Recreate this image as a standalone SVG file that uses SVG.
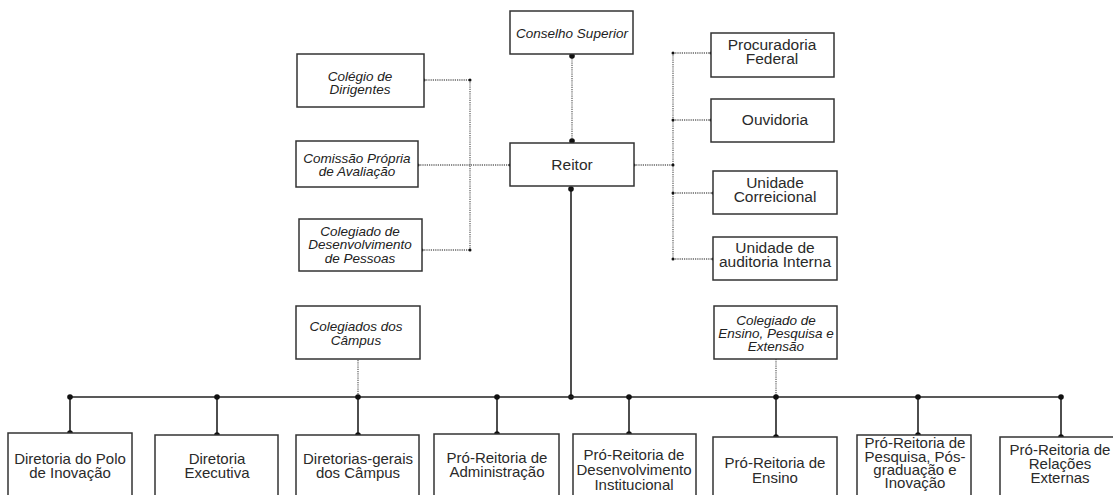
<svg xmlns="http://www.w3.org/2000/svg" width="1113" height="495" viewBox="0 0 1113 495">
<style>
.box{fill:#fff;stroke:#333;stroke-width:1.5}
.t{font-family:"Liberation Sans",Arial,sans-serif;font-size:15px;fill:#2a2a2a;text-anchor:middle}
.tr{font-family:"Liberation Sans",Arial,sans-serif;font-size:15.5px;fill:#2a2a2a;text-anchor:middle}
.ti{font-family:"Liberation Sans",Arial,sans-serif;font-size:13.5px;font-style:italic;fill:#222;text-anchor:middle}
.dot{fill:none;stroke:#666;stroke-width:1.3;stroke-dasharray:1.2 1}
.sol{fill:none;stroke:#222;stroke-width:1.6}
.jd{fill:#111}
</style>
<rect width="1113" height="495" fill="#fff"/>
<g id="connectors">
  <!-- Conselho - Reitor -->
  <path class="dot" d="M572 56V141"/>
  <circle class="jd" cx="572" cy="56" r="2.8"/>
  <circle class="jd" cx="572" cy="141" r="2.8"/>
  <!-- left side -->
  <path class="dot" d="M424 80H470M418 165H510M422 250H470M470 80V250"/>
  <circle class="jd" cx="424" cy="80" r="1.5"/>
  <circle class="jd" cx="470" cy="80" r="1.5"/>
  <circle class="jd" cx="418" cy="165" r="1.5"/>
  <circle class="jd" cx="510" cy="165" r="1.5"/>
  <circle class="jd" cx="422" cy="250" r="1.5"/>
  <circle class="jd" cx="470" cy="250" r="1.5"/>
  <!-- right side -->
  <path class="dot" d="M634 165H673M673 53V259M673 53H711M673 120H711M673 193H713M673 259H713"/>
  <circle class="jd" cx="634" cy="165" r="1.5"/>
  <circle class="jd" cx="673" cy="165" r="1.5"/>
  <circle class="jd" cx="673" cy="53" r="1.5"/>
  <circle class="jd" cx="711" cy="53" r="1.5"/>
  <circle class="jd" cx="673" cy="120" r="1.5"/>
  <circle class="jd" cx="711" cy="120" r="1.5"/>
  <circle class="jd" cx="673" cy="193" r="1.5"/>
  <circle class="jd" cx="713" cy="193" r="1.5"/>
  <circle class="jd" cx="673" cy="259" r="1.5"/>
  <circle class="jd" cx="713" cy="259" r="1.5"/>
  <!-- Reitor to bus -->
  <path class="sol" d="M571 189V397"/>
  <circle class="jd" cx="571" cy="189" r="2.8"/>
  <circle class="jd" cx="571" cy="397" r="2.8"/>
  <!-- colegiados dotted -->
  <path class="dot" d="M358 360V397M776 359V397"/>
  <!-- bus -->
  <path class="sol" d="M70 397H1061"/>
  <path class="sol" d="M70 397V433M217 397V435M358 397V435M497 397V434M629 397V434M776 397V437M918 397V435M1061 397V437"/>
  <g class="jd">
    <circle cx="70" cy="397" r="2.8"/><circle cx="70" cy="433" r="2.8"/>
    <circle cx="217" cy="397" r="2.8"/><circle cx="217" cy="435" r="2.8"/>
    <circle cx="358" cy="397" r="2.8"/><circle cx="358" cy="435" r="2.8"/>
    <circle cx="497" cy="397" r="2.8"/><circle cx="497" cy="434" r="2.8"/>
    <circle cx="629" cy="397" r="2.8"/><circle cx="629" cy="434" r="2.8"/>
    <circle cx="776" cy="397" r="2.8"/><circle cx="776" cy="437" r="2.8"/>
    <circle cx="918" cy="397" r="2.8"/><circle cx="918" cy="435" r="2.8"/>
    <circle cx="1061" cy="397" r="2.8"/><circle cx="1061" cy="437" r="2.8"/>
  </g>
</g>
<g id="conselho-superior">
  <rect class="box" x="510" y="11" width="123" height="43"/>
  <text class="ti" x="572" y="38">Conselho Superior</text>
</g>
<g id="reitor">
  <rect class="box" x="510" y="143" width="124" height="43"/>
  <text class="tr" x="572" y="170">Reitor</text>
</g>
<g id="colegio-dirigentes">
  <rect class="box" x="297" y="54" width="127" height="53"/>
  <text class="ti" x="360" y="81">Colégio de</text>
  <text class="ti" x="360" y="94">Dirigentes</text>
</g>
<g id="comissao-propria">
  <rect class="box" x="296" y="141" width="122" height="46"/>
  <text class="ti" x="357" y="163">Comissão Própria</text>
  <text class="ti" x="357" y="176">de Avaliação</text>
</g>
<g id="colegiado-desenvolvimento">
  <rect class="box" x="299" y="219" width="123" height="52"/>
  <text class="ti" x="360" y="236">Colegiado de</text>
  <text class="ti" x="360" y="249">Desenvolvimento</text>
  <text class="ti" x="360" y="263">de Pessoas</text>
</g>
<g id="procuradoria">
  <rect class="box" x="711" y="33" width="123" height="44"/>
  <text class="tr" x="772" y="50">Procuradoria</text>
  <text class="tr" x="772" y="64">Federal</text>
</g>
<g id="ouvidoria">
  <rect class="box" x="711" y="99" width="123" height="43"/>
  <text class="tr" x="775" y="125">Ouvidoria</text>
</g>
<g id="unidade-correicional">
  <rect class="box" x="713" y="171" width="124" height="43"/>
  <text class="tr" x="775" y="188">Unidade</text>
  <text class="tr" x="775" y="202">Correicional</text>
</g>
<g id="unidade-auditoria">
  <rect class="box" x="713" y="237" width="124" height="43"/>
  <text class="tr" x="775" y="253">Unidade de</text>
  <text class="tr" x="775" y="267">auditoria Interna</text>
</g>
<g id="colegiados-campus">
  <rect class="box" x="296" y="306" width="124" height="53"/>
  <text class="ti" x="356" y="331">Colegiados dos</text>
  <text class="ti" x="356" y="345">Câmpus</text>
</g>
<g id="colegiado-ensino">
  <rect class="box" x="714" y="306" width="123" height="53"/>
  <text class="ti" x="776" y="325">Colegiado de</text>
  <text class="ti" x="776" y="338">Ensino, Pesquisa e</text>
  <text class="ti" x="776" y="351">Extensão</text>
</g>
<g id="diretoria-polo">
  <rect class="box" x="8" y="433" width="124" height="70"/>
  <text class="t" x="70" y="464">Diretoria do Polo</text>
  <text class="t" x="70" y="478">de Inovação</text>
</g>
<g id="diretoria-executiva">
  <rect class="box" x="155" y="435" width="123" height="70"/>
  <text class="t" x="217" y="464">Diretoria</text>
  <text class="t" x="217" y="478">Executiva</text>
</g>
<g id="diretorias-gerais">
  <rect class="box" x="296" y="435" width="123" height="70"/>
  <text class="t" x="358" y="464">Diretorias-gerais</text>
  <text class="t" x="358" y="478">dos Câmpus</text>
</g>
<g id="pr-administracao">
  <rect class="box" x="434" y="434" width="125" height="70"/>
  <text class="t" x="497" y="463">Pró-Reitoria de</text>
  <text class="t" x="497" y="477">Administração</text>
</g>
<g id="pr-desenvolvimento">
  <rect class="box" x="573" y="434" width="123" height="70"/>
  <text class="t" x="634" y="460">Pró-Reitoria de</text>
  <text class="t" x="634" y="475">Desenvolvimento</text>
  <text class="t" x="634" y="490">Institucional</text>
</g>
<g id="pr-ensino">
  <rect class="box" x="713" y="437" width="124" height="70"/>
  <text class="t" x="775" y="468">Pró-Reitoria de</text>
  <text class="t" x="775" y="483">Ensino</text>
</g>
<g id="pr-pesquisa">
  <rect class="box" x="857" y="435" width="114" height="70"/>
  <text class="t" x="915" y="448">Pró-Reitoria de</text>
  <text class="t" x="915" y="462">Pesquisa, Pós-</text>
  <text class="t" x="915" y="475">graduação e</text>
  <text class="t" x="915" y="488">Inovação</text>
</g>
<g id="pr-relacoes">
  <rect class="box" x="1000" y="437" width="125" height="70"/>
  <text class="t" x="1060" y="455">Pró-Reitoria de</text>
  <text class="t" x="1060" y="469">Relações</text>
  <text class="t" x="1060" y="483">Externas</text>
</g>
</svg>
